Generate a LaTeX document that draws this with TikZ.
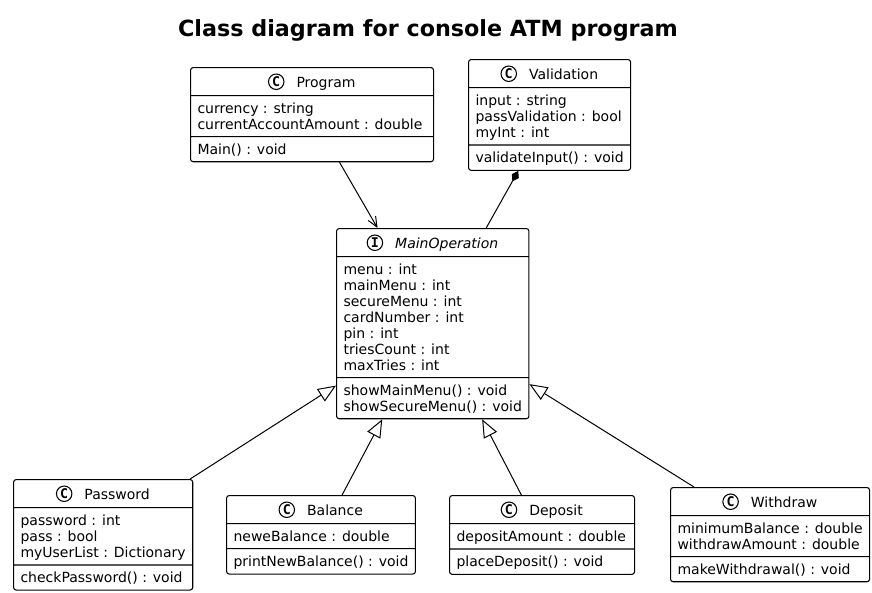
\documentclass[tikz,border=0pt]{standalone}
\usepackage{fontspec}
\setmainfont{DejaVu Sans}
\newfontfamily\iconfont{DejaVu Sans Mono}
\usetikzlibrary{shapes.multipart,arrows.meta}
\tikzset{
    umlbox/.style={draw, line width=0.8pt, rounded corners=2pt,
        rectangle split, rectangle split parts=3,
        rectangle split part align={center,left,left}, align=left,
        inner xsep=5.25pt, inner ysep=3.3pt,
        font=\fontsize{10.5}{12}\selectfont},
    iconcircle/.style={circle, draw, line width=0.8pt, fill=white,
        inner sep=0pt, minimum size=11.6pt,
        font=\iconfont\bfseries\fontsize{10}{10}\selectfont},
    assoc/.style={line width=0.75pt, -{Straight Barb[length=7.5pt,width=6.5pt]}},
    extends/.style={line width=0.75pt, -{Triangle[open,length=13.5pt,width=11pt]}},
    composed/.style={line width=0.75pt, {Diamond[length=9pt,width=6pt]}-},
}
\newcommand{\headstrut}{\rule[-2.7pt]{0pt}{13.65pt}}
\newcommand{\topstrut}{\rule{0pt}{9.45pt}}
\newcommand{\botstrut}{\rule[-1.95pt]{0pt}{0pt}}
% name, x, y, width, icon letter, title, attributes, methods
\newcommand{\umlclass}[8]{
    \node[umlbox, minimum width=#4*0.75pt, anchor=north west] (#1) at (#2,#3)
        {\headstrut\hspace*{21pt}#6\nodepart{two}\topstrut#7\botstrut
         \nodepart{three}\topstrut#8\botstrut};
    \node[iconcircle] (#1-icon) at ([shift={(5.8pt,4pt)}]#1.text) {#5};
}

\begin{document}
\begin{tikzpicture}[x=0.75pt,y=-0.75pt]
    \useasboundingbox (0,0) rectangle (872,593);
    \node[anchor=base, font=\fontsize{16.7}{20}\selectfont\bfseries] (title) at (428,36)
        {Class diagram for console ATM program};

    \umlclass{Program}{190}{67}{243}{C}{Program}
        {currency : string\\currentAccountAmount : double}{Main() : void}
    \umlclass{Validation}{468}{59}{161}{C}{Validation}
        {input : string\\passValidation : bool\\myInt : int}{validateInput() : void}
    \umlclass{MainOperation}{336}{228}{188}{I}{\textit{MainOperation}}
        {menu : int\\mainMenu : int\\secureMenu : int\\cardNumber : int\\pin : int\\triesCount : int\\maxTries : int}
        {showMainMenu() : void\\showSecureMenu() : void}
    \umlclass{Password}{13}{479}{177}{C}{Password}
        {password : int\\pass : bool\\myUserList : Dictionary}{checkPassword() : void}
    \umlclass{Balance}{226}{495}{186}{C}{Balance}
        {neweBalance : double}{printNewBalance() : void}
    \umlclass{Deposit}{449}{495}{185}{C}{Deposit}
        {depositAmount : double}{placeDeposit() : void}
    \umlclass{Withdraw}{670}{487}{196}{C}{Withdraw}
        {minimumBalance : double\\withdrawAmount : double}{makeWithdrawal() : void}

    % relations
    \draw[assoc] (Program) -- (MainOperation);
    \draw[composed] (Validation) -- (MainOperation);
    \foreach \sub in {Password,Balance,Deposit,Withdraw}
        \draw[extends] (\sub) -- (MainOperation);
\end{tikzpicture}
\end{document}
